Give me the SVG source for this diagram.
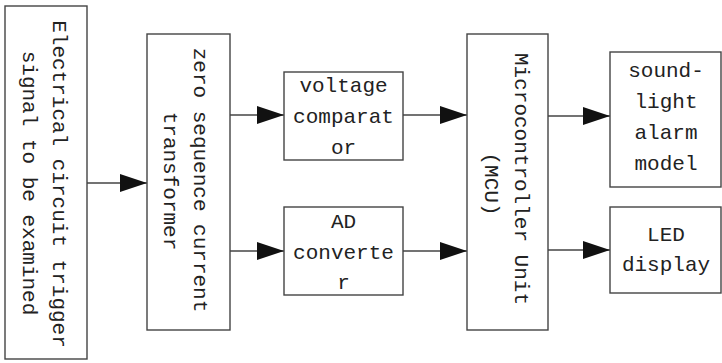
<svg xmlns="http://www.w3.org/2000/svg" width="722" height="363" viewBox="0 0 722 363">
<style>
.box{fill:#fff;stroke:#444;stroke-width:1.4}
.t{font-family:"Liberation Mono","DejaVu Sans Mono",monospace;font-size:21px;fill:#222;text-anchor:middle}
.c{stroke:#444;stroke-width:1.3;fill:none;marker-end:url(#ah)}
</style>
<defs>
<marker id="ah" markerUnits="userSpaceOnUse" markerWidth="27" markerHeight="18" refX="27" refY="9" orient="auto">
<path d="M0,0 L27,9 L0,18 z" fill="#111"/>
</marker>
</defs>
<rect width="722" height="363" fill="#fff"/>
<g id="connectors">
<line class="c" x1="87" y1="183" x2="147" y2="183"/>
<line class="c" x1="230" y1="115" x2="284" y2="115"/>
<line class="c" x1="230" y1="251" x2="284" y2="251"/>
<line class="c" x1="403" y1="115" x2="467" y2="115"/>
<line class="c" x1="403" y1="251" x2="467" y2="251"/>
<line class="c" x1="548" y1="116" x2="610" y2="116"/>
<line class="c" x1="548" y1="250" x2="610" y2="250"/>
</g>
<g id="input">
<rect class="box" x="5" y="6" width="82" height="353"/>
<text class="t" transform="translate(53,184) rotate(90)">Electrical circuit trigger</text>
<text class="t" transform="translate(23,183) rotate(90)">signal to be examined</text>
</g>
<g id="ct">
<rect class="box" x="147" y="34" width="83" height="296"/>
<text class="t" transform="translate(194,180) rotate(90)">zero sequence current</text>
<text class="t" transform="translate(164,181) rotate(90)">transformer</text>
</g>
<g id="comparator">
<rect class="box" x="284" y="72" width="119" height="88"/>
<text class="t" x="343.5" y="92">voltage</text>
<text class="t" x="343.5" y="123">comparat</text>
<text class="t" x="343.5" y="154">or</text>
</g>
<g id="adc">
<rect class="box" x="284" y="207" width="119" height="88"/>
<text class="t" x="343.5" y="228">AD</text>
<text class="t" x="343.5" y="259">converte</text>
<text class="t" x="343.5" y="289">r</text>
</g>
<g id="mcu">
<rect class="box" x="467" y="34" width="81" height="296"/>
<text class="t" transform="translate(515,179) rotate(90)">Microcontroller Unit</text>
<text class="t" transform="translate(485,184) rotate(90)">(MCU)</text>
</g>
<g id="alarm">
<rect class="box" x="610" y="52" width="111" height="135"/>
<text class="t" x="666" y="77">sound-</text>
<text class="t" x="666" y="108">light</text>
<text class="t" x="666" y="139">alarm</text>
<text class="t" x="666" y="170">model</text>
</g>
<g id="led">
<rect class="box" x="610" y="207" width="111" height="86"/>
<text class="t" x="666" y="241">LED</text>
<text class="t" x="666" y="271">display</text>
</g>
</svg>
